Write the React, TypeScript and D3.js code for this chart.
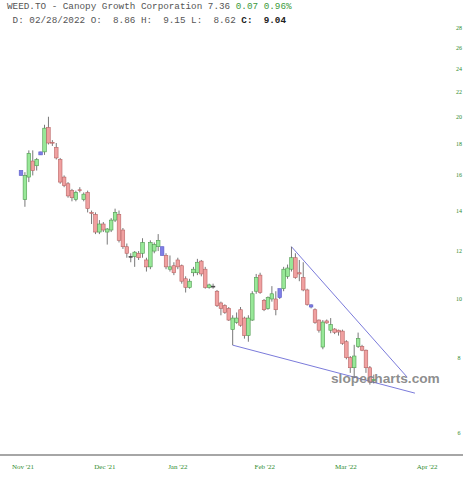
import React from "react";
import * as d3 from "d3";

// OHLC per trading day (index 0 = Nov 1 2021)
const opens = [16.0,14.6,15.9,16.9,16.6,17.3,17.5,19.2,18.15,17.8,17.0,15.9,15.5,15.1,14.6,15.15,14.6,15.0,13.9,13.8,12.9,13.3,12.9,13.0,13.5,13.8,13.0,12.2,11.76,11.75,11.9,11.9,11.6,11.3,12.0,12.2,12.2,11.8,11.2,11.35,11.6,11.35,10.8,10.45,11.05,11.05,11.55,11.2,10.45,10.5,10.3,9.85,9.75,9.65,8.9,9.15,9.6,9.3,8.7,9.23,10.3,10.95,9.95,9.65,10.0,10.0,10.05,10.4,10.9,11.2,11.7,11.05,10.85,10.35,9.78,9.6,9.23,8.33,9.2,8.88,8.92,8.88,8.85,8.5,8.0,7.7,8.35,8.35,8.23,7.7,7.33];
const highs = [16.3,16.2,17.6,17.6,17.1,17.5,19.4,20.0,18.3,18.1,17.1,16.0,15.6,15.2,15.1,15.3,15.0,15.1,14.0,13.9,13.5,13.4,13.1,13.6,14.1,14.0,13.1,12.35,11.9,12.0,12.0,12.6,11.7,12.5,12.4,12.8,12.2,11.9,11.8,11.5,11.7,11.4,10.9,10.8,11.3,11.65,11.6,11.3,10.6,10.6,10.35,9.9,9.8,9.7,9.4,9.5,9.7,9.35,9.4,10.3,11.0,11.05,10.0,10.1,10.5,10.3,10.4,11.3,11.4,12.2,11.9,11.6,11.5,10.4,9.8,9.65,9.25,9.23,9.25,9.3,8.95,8.9,8.9,8.55,8.05,8.4,8.8,8.4,8.25,7.75,7.5];
const lows = [16.0,14.2,15.6,16.0,16.3,17.3,17.3,18.0,17.9,17.0,15.5,15.3,14.7,14.5,14.5,15.0,14.5,13.9,13.3,12.8,12.8,12.9,12.3,12.9,13.4,12.4,12.1,11.7,11.5,11.3,11.6,11.7,11.1,11.2,11.9,12.0,11.8,11.2,11.1,10.95,11.2,10.6,10.25,10.4,10.9,10.95,10.9,10.4,10.4,10.4,9.7,9.4,9.45,9.2,8.39,9.1,9.0,8.6,8.5,9.2,10.2,10.2,9.55,9.6,9.9,9.4,10.0,10.3,10.8,11.1,10.8,10.7,10.3,9.75,9.65,9.1,8.8,8.26,9.1,8.78,8.75,8.7,8.4,7.95,7.55,7.4,8.3,8.2,7.55,7.22,7.25];
const closes = [16.3,16.0,17.4,16.3,17.0,17.5,19.15,18.1,18.1,17.1,15.6,15.4,14.8,14.7,15.0,15.1,14.9,14.1,13.85,12.9,13.3,13.0,13.05,13.5,13.9,12.5,12.2,11.9,11.74,11.95,11.7,12.4,11.3,12.4,12.3,12.5,11.8,11.3,11.3,11.05,11.3,10.7,10.45,10.7,11.2,11.5,11.0,10.45,10.55,10.5,9.75,9.65,9.5,9.23,9.3,9.3,9.05,8.7,9.3,10.2,10.85,10.25,9.6,10.05,10.2,9.6,10.4,11.2,11.25,11.7,10.85,11.0,10.35,9.8,9.7,9.15,8.88,9.16,9.13,9.07,8.81,8.82,8.45,8.0,7.7,8.05,8.6,8.23,7.7,7.29,7.36];
const blueDays = [0, 5, 36, 66, 74];

const yTicks = [6, 8, 10, 12, 14, 16, 18, 20, 22, 24, 26, 28];
const monthLabels = ["Nov '21", "Dec '21", "Jan '22", "Feb '22", "Mar '22", "Apr '22"];
const monthIdx = [0.5, 21.4, 40, 62.2, 82.9, 103.6];

const upperTrendIdx = [69, 98.5];
const upperTrendPrice = [12.2, 7.43];
const lowerTrendIdx = [54, 100.5];
const lowerTrendPrice = [8.39, 6.99];

const W = 463;
const H = 480;

export default function App() {
  const x = d3.scaleLinear().domain([0, 90]).range([21, 373.8]);
  const y = d3.scaleLog().domain([6, 28]).range([433.3, 28.3]);
  const bw = 3.6;
  const line = d3.line<[number, number]>().x((d) => x(d[0])).y((d) => y(d[1]));

  const candles = opens.map((o, i) => {
    const c = closes[i];
    const h = highs[i];
    const l = lows[i];
    const blue = blueDays.includes(i);
    const up = c > o;
    const doji = Math.abs(c - o) < 0.03;
    let fill = up ? "#98e898" : "#f0a0a0";
    let stroke = up ? "#4f9a4f" : "#b86464";
    if (blue) { fill = "#7e7ee6"; stroke = "#5c5cc8"; }
    if (doji && !blue) { fill = "#555"; stroke = "#444"; }
    const top = y(Math.max(o, c));
    const bot = y(Math.min(o, c));
    const cx = x(i);
    return (
      <g key={i}>
        <line x1={cx} x2={cx} y1={y(h)} y2={y(l)} stroke="#555" strokeWidth={0.8} />
        <rect x={cx - bw / 2} y={top} width={bw} height={Math.max(bot - top, 0.9)} fill={fill} stroke={stroke} strokeWidth={0.6} />
      </g>
    );
  });

  return (
    <svg width={W} height={H} style={{ position: "absolute", left: 0, top: 0, background: "#fff" }}>
      <rect x={0} y={0} width={W} height={H} fill="#fff" />
      <text x={7} y={9} fontFamily="'Liberation Mono', monospace" fontSize={9.3} fill="#555" xmlSpace="preserve" style={{ whiteSpace: "pre" }}>
        WEED.TO - Canopy Growth Corporation 7.36 <tspan fill="#3c9a3c">0.07 0.96%</tspan>
      </text>
      <text x={7} y={22.5} fontFamily="'Liberation Mono', monospace" fontSize={9.3} fill="#555" xmlSpace="preserve" style={{ whiteSpace: "pre" }}>
        {" D: 02/28/2022 O:  8.86 H:  9.15 L:  8.62 "}<tspan fontWeight="bold" fill="#222">{"C:  9.04"}</tspan>
      </text>

      {yTicks.map((t) => (
        <text key={t} x={459} y={y(t)} textAnchor="middle" dominantBaseline="central" fontFamily="'Liberation Serif', serif" fontSize={6} fill="#2e8b2e">
          {t}
        </text>
      ))}

      <line x1={0} x2={W} y1={455} y2={455} stroke="#888" strokeWidth={1.5} />
      {monthLabels.map((m, i) => (
        <text key={m} x={x(monthIdx[i])} y={467} textAnchor="middle" dominantBaseline="central" fontFamily="'Liberation Serif', serif" fontSize={7} fill="#2e8b2e">
          {m}
        </text>
      ))}

      <path d={line(upperTrendIdx.map((v, i) => [v, upperTrendPrice[i]] as [number, number])) || ""} stroke="#7b7bdb" strokeWidth={1} fill="none" />
      <path d={line(lowerTrendIdx.map((v, i) => [v, lowerTrendPrice[i]] as [number, number])) || ""} stroke="#7b7bdb" strokeWidth={1} fill="none" />

      {candles}

      <text x={331} y={383} fontFamily="'Liberation Sans', Arial, sans-serif" fontWeight="bold" fontSize={13.7} fill="#808080" fillOpacity={0.9}>
        slopecharts.com
      </text>
    </svg>
  );
}
